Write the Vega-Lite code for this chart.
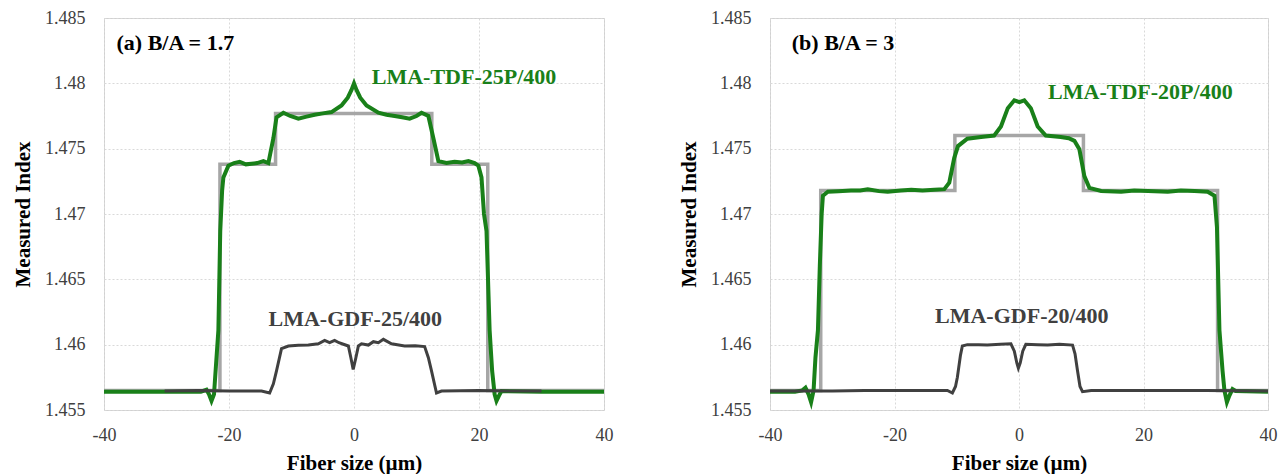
{
  "$schema": "https://vega.github.io/schema/vega-lite/v6.json",
  "padding": {"left": 12, "top": 8, "right": 0, "bottom": 0},
  "spacing": 64,
  "background": "white",
  "config": {
    "font": "Times New Roman, Liberation Serif, DejaVu Serif, serif",
    "view": {"stroke": "#d0d0d0", "strokeWidth": 1},
    "axis": {
      "domain": false, "ticks": false, "tickSize": 0,
      "grid": true, "gridColor": "#d9d9d9", "gridDash": [2, 2], "gridWidth": 1,
      "labelFont": "Times New Roman, Liberation Serif, DejaVu Serif, serif", "labelFontSize": 18, "labelColor": "#404040",
      "titleFont": "Times New Roman, Liberation Serif, DejaVu Serif, serif", "titleFontSize": 21, "titleFontWeight": "bold", "titleColor": "#000000"
    },
    "axisY": {"labelPadding": 19, "titlePadding": 11},
    "axisX": {"labelPadding": 16, "titlePadding": 8, "labelFlush": false}
  },
  "datasets": {
    "stepA": [
      {"x": -40, "y": 1.4565}, {"x": -21.45, "y": 1.4565}, {"x": -21.45, "y": 1.4738}, {"x": -12.55, "y": 1.4738},
      {"x": -12.55, "y": 1.4777}, {"x": 12.45, "y": 1.4777}, {"x": 12.45, "y": 1.4738}, {"x": 21.4, "y": 1.4738},
      {"x": 21.4, "y": 1.4565}, {"x": 40, "y": 1.4565}
    ],
    "tdfA": [
      {"x": -40, "y": 1.4564}, {"x": -30, "y": 1.4564}, {"x": -24.5, "y": 1.4564}, {"x": -23.6, "y": 1.45655},
      {"x": -23.2, "y": 1.4562}, {"x": -22.8, "y": 1.4557}, {"x": -22.4, "y": 1.4562}, {"x": -22.1, "y": 1.4583},
      {"x": -21.7, "y": 1.4611}, {"x": -21.4, "y": 1.4687}, {"x": -21.1, "y": 1.4718}, {"x": -20.9, "y": 1.4728},
      {"x": -20.1, "y": 1.4737}, {"x": -19.2, "y": 1.4739}, {"x": -18.3, "y": 1.474}, {"x": -17.3, "y": 1.4738},
      {"x": -16.4, "y": 1.47385}, {"x": -15.5, "y": 1.4739}, {"x": -14.5, "y": 1.47405}, {"x": -13.7, "y": 1.4739},
      {"x": -12.9, "y": 1.4758}, {"x": -12.4, "y": 1.4774}, {"x": -11.3, "y": 1.47775}, {"x": -10.2, "y": 1.4775},
      {"x": -8.9, "y": 1.4773}, {"x": -7.6, "y": 1.47745}, {"x": -6.3, "y": 1.4776}, {"x": -5.0, "y": 1.4777},
      {"x": -3.6, "y": 1.4778}, {"x": -2.0, "y": 1.4783}, {"x": -1.0, "y": 1.4789}, {"x": -0.4, "y": 1.4795},
      {"x": 0, "y": 1.48}, {"x": 0.4, "y": 1.4795}, {"x": 1.0, "y": 1.4789}, {"x": 2.0, "y": 1.4783},
      {"x": 3.9, "y": 1.47775}, {"x": 5.2, "y": 1.4776}, {"x": 6.5, "y": 1.4775}, {"x": 7.7, "y": 1.4774},
      {"x": 8.9, "y": 1.4773}, {"x": 10.0, "y": 1.4775}, {"x": 10.8, "y": 1.47775}, {"x": 11.9, "y": 1.4775},
      {"x": 12.7, "y": 1.4758}, {"x": 13.5, "y": 1.47405}, {"x": 14.8, "y": 1.4739}, {"x": 16.1, "y": 1.474},
      {"x": 17.3, "y": 1.47395}, {"x": 18.3, "y": 1.47405}, {"x": 19.3, "y": 1.4739}, {"x": 19.9, "y": 1.4737},
      {"x": 20.4, "y": 1.4728}, {"x": 20.8, "y": 1.47}, {"x": 21.2, "y": 1.4687}, {"x": 21.7, "y": 1.4611},
      {"x": 22.1, "y": 1.458}, {"x": 22.5, "y": 1.4562}, {"x": 22.8, "y": 1.4557}, {"x": 23.2, "y": 1.4561},
      {"x": 23.6, "y": 1.45645}, {"x": 30, "y": 1.4564}, {"x": 40, "y": 1.4564}
    ],
    "gdfA": [
      {"x": -30.3, "y": 1.45645}, {"x": -25, "y": 1.4565}, {"x": -20, "y": 1.45645}, {"x": -14.8, "y": 1.45645},
      {"x": -13.5, "y": 1.4563}, {"x": -12.9, "y": 1.457}, {"x": -12.4, "y": 1.458}, {"x": -11.6, "y": 1.4597},
      {"x": -10.5, "y": 1.4599}, {"x": -8.9, "y": 1.45995}, {"x": -7.3, "y": 1.45997}, {"x": -5.7, "y": 1.46007},
      {"x": -4.7, "y": 1.46033}, {"x": -3.9, "y": 1.46015}, {"x": -3.1, "y": 1.46033}, {"x": -2.4, "y": 1.46015},
      {"x": -1.7, "y": 1.46003}, {"x": -0.9, "y": 1.4599}, {"x": -0.5, "y": 1.459}, {"x": -0.13, "y": 1.4581},
      {"x": 0.3, "y": 1.459}, {"x": 0.7, "y": 1.4599}, {"x": 1.2, "y": 1.46007}, {"x": 2.3, "y": 1.45997},
      {"x": 3.1, "y": 1.46023}, {"x": 3.9, "y": 1.46015}, {"x": 4.7, "y": 1.46041}, {"x": 6.0, "y": 1.46007},
      {"x": 8.1, "y": 1.4599}, {"x": 9.8, "y": 1.45992}, {"x": 11.3, "y": 1.45985}, {"x": 11.9, "y": 1.459},
      {"x": 12.4, "y": 1.458}, {"x": 13.2, "y": 1.4563}, {"x": 14.0, "y": 1.45645}, {"x": 20, "y": 1.4565},
      {"x": 25, "y": 1.45645}, {"x": 30, "y": 1.45645}
    ],
    "panelLabelA": [{"x": -38, "y": 1.48309, "text": "(a) B/A = 1.7"}],
    "seriesLabelA": [
      {"x": 17.6, "y": 1.4805, "text": "LMA-TDF-25P/400", "series": "TDF"},
      {"x": 0.2, "y": 1.462, "text": "LMA-GDF-25/400", "series": "GDF"}
    ],
    "stepB": [
      {"x": -40, "y": 1.4565}, {"x": -31.85, "y": 1.4565}, {"x": -31.85, "y": 1.4718}, {"x": -10.3, "y": 1.4718},
      {"x": -10.3, "y": 1.476}, {"x": 10.35, "y": 1.476}, {"x": 10.35, "y": 1.4718}, {"x": 31.9, "y": 1.4718},
      {"x": 31.9, "y": 1.4565}, {"x": 40, "y": 1.4565}
    ],
    "tdfB": [
      {"x": -40, "y": 1.4564}, {"x": -36, "y": 1.4564}, {"x": -34.8, "y": 1.4565}, {"x": -34.3, "y": 1.4567},
      {"x": -33.8, "y": 1.4562}, {"x": -33.4, "y": 1.4556}, {"x": -33.0, "y": 1.4565}, {"x": -32.7, "y": 1.459},
      {"x": -32.3, "y": 1.4611}, {"x": -32.0, "y": 1.466}, {"x": -31.7, "y": 1.47}, {"x": -31.5, "y": 1.4714},
      {"x": -30.7, "y": 1.4717}, {"x": -29, "y": 1.47175}, {"x": -27.0, "y": 1.4718}, {"x": -25.5, "y": 1.4718},
      {"x": -24.3, "y": 1.4719}, {"x": -22.5, "y": 1.47175}, {"x": -21.1, "y": 1.4717}, {"x": -19, "y": 1.4718},
      {"x": -17.3, "y": 1.47185}, {"x": -15.5, "y": 1.4718}, {"x": -13.6, "y": 1.47185}, {"x": -12.0, "y": 1.4719},
      {"x": -11.2, "y": 1.4724}, {"x": -10.4, "y": 1.4743}, {"x": -9.8, "y": 1.4752}, {"x": -8.3, "y": 1.47576},
      {"x": -6.1, "y": 1.4759}, {"x": -4.0, "y": 1.476}, {"x": -2.9, "y": 1.4767}, {"x": -1.8, "y": 1.4781},
      {"x": -0.75, "y": 1.4787}, {"x": 0.05, "y": 1.47857}, {"x": 0.85, "y": 1.4787}, {"x": 1.9, "y": 1.4781},
      {"x": 3.0, "y": 1.4767}, {"x": 4.3, "y": 1.476}, {"x": 6.7, "y": 1.4759}, {"x": 8.0, "y": 1.4758},
      {"x": 8.9, "y": 1.4756}, {"x": 9.7, "y": 1.47495}, {"x": 10.5, "y": 1.4729}, {"x": 11.3, "y": 1.472},
      {"x": 13.2, "y": 1.47176}, {"x": 16.4, "y": 1.4717}, {"x": 18.5, "y": 1.4718}, {"x": 20.7, "y": 1.47176},
      {"x": 23.9, "y": 1.4717}, {"x": 26, "y": 1.4718}, {"x": 28.2, "y": 1.47176}, {"x": 30.3, "y": 1.4717},
      {"x": 31.4, "y": 1.4714}, {"x": 31.8, "y": 1.469}, {"x": 32.2, "y": 1.4611}, {"x": 32.7, "y": 1.458},
      {"x": 33.0, "y": 1.4565}, {"x": 33.4, "y": 1.4556}, {"x": 33.8, "y": 1.4561}, {"x": 34.3, "y": 1.4566},
      {"x": 34.8, "y": 1.45645}, {"x": 40, "y": 1.4564}
    ],
    "gdfB": [
      {"x": -40, "y": 1.45645}, {"x": -30, "y": 1.45645}, {"x": -24.8, "y": 1.4565}, {"x": -20, "y": 1.4565},
      {"x": -13.6, "y": 1.4565}, {"x": -11.5, "y": 1.4565}, {"x": -10.7, "y": 1.4563}, {"x": -10.2, "y": 1.4568},
      {"x": -9.9, "y": 1.4575}, {"x": -9.4, "y": 1.4592}, {"x": -9.1, "y": 1.4599}, {"x": -8.3, "y": 1.46},
      {"x": -6.5, "y": 1.46}, {"x": -5.1, "y": 1.45997}, {"x": -3, "y": 1.46003}, {"x": -1.3, "y": 1.46007},
      {"x": -0.75, "y": 1.4595}, {"x": -0.35, "y": 1.4586}, {"x": -0.1, "y": 1.4582}, {"x": 0.2, "y": 1.4586},
      {"x": 0.6, "y": 1.4595}, {"x": 1.1, "y": 1.46003}, {"x": 3, "y": 1.46}, {"x": 4.6, "y": 1.45997},
      {"x": 6.5, "y": 1.46003}, {"x": 8.6, "y": 1.45997}, {"x": 9.0, "y": 1.4593}, {"x": 9.4, "y": 1.458},
      {"x": 9.8, "y": 1.4568}, {"x": 10.2, "y": 1.4564}, {"x": 11.6, "y": 1.4565}, {"x": 20, "y": 1.4565},
      {"x": 30, "y": 1.4565}, {"x": 40, "y": 1.45645}
    ],
    "panelLabelB": [{"x": -36.5, "y": 1.48309, "text": "(b) B/A = 3"}],
    "seriesLabelB": [
      {"x": 19.5, "y": 1.47936, "text": "LMA-TDF-20P/400", "series": "TDF"},
      {"x": 0.45, "y": 1.46219, "text": "LMA-GDF-20/400", "series": "GDF"}
    ]
  },
  "hconcat": [
    {
      "width": 500, "height": 392,
      "encoding": {
        "x": {"field": "x", "type": "quantitative", "scale": {"domain": [-40, 40], "nice": false, "zero": false},
              "axis": {"values": [-40, -20, 0, 20, 40], "title": "Fiber size (µm)", "labelExpr": "'' + datum.value"}},
        "y": {"field": "y", "type": "quantitative", "scale": {"domain": [1.455, 1.485], "nice": false, "zero": false},
              "axis": {"values": [1.455, 1.46, 1.465, 1.47, 1.475, 1.48, 1.485], "title": "Measured Index", "labelExpr": "'' + datum.value"}}
      },
      "layer": [
        {"data": {"name": "stepA"}, "mark": {"type": "line", "color": "#a6a6a6", "strokeWidth": 3.5}, "encoding": {"order": {"value": null}}},
        {"data": {"name": "tdfA"}, "mark": {"type": "line", "color": "#198019", "strokeWidth": 4}, "encoding": {"order": {"value": null}}},
        {"data": {"name": "gdfA"}, "mark": {"type": "line", "color": "#404040", "strokeWidth": 3}, "encoding": {"order": {"value": null}}},
        {"data": {"name": "panelLabelA"}, "mark": {"type": "text", "align": "left", "baseline": "middle", "fontSize": 22, "fontWeight": "bold", "font": "Times New Roman, Liberation Serif, DejaVu Serif, serif", "color": "#000000"},
         "encoding": {"text": {"field": "text"}}},
        {"data": {"name": "seriesLabelA"}, "mark": {"type": "text", "align": "center", "baseline": "middle", "fontSize": 22, "fontWeight": "bold", "font": "Times New Roman, Liberation Serif, DejaVu Serif, serif"},
         "encoding": {"text": {"field": "text"}, "color": {"field": "series", "type": "nominal", "scale": {"domain": ["TDF", "GDF"], "range": ["#198019", "#404040"]}, "legend": null}}}
      ]
    },
    {
      "width": 498, "height": 392,
      "encoding": {
        "x": {"field": "x", "type": "quantitative", "scale": {"domain": [-40, 40], "nice": false, "zero": false},
              "axis": {"values": [-40, -20, 0, 20, 40], "title": "Fiber size (µm)", "labelExpr": "'' + datum.value"}},
        "y": {"field": "y", "type": "quantitative", "scale": {"domain": [1.455, 1.485], "nice": false, "zero": false},
              "axis": {"values": [1.455, 1.46, 1.465, 1.47, 1.475, 1.48, 1.485], "title": "Measured Index", "labelExpr": "'' + datum.value"}}
      },
      "layer": [
        {"data": {"name": "stepB"}, "mark": {"type": "line", "color": "#a6a6a6", "strokeWidth": 3.5}, "encoding": {"order": {"value": null}}},
        {"data": {"name": "tdfB"}, "mark": {"type": "line", "color": "#198019", "strokeWidth": 4}, "encoding": {"order": {"value": null}}},
        {"data": {"name": "gdfB"}, "mark": {"type": "line", "color": "#404040", "strokeWidth": 3}, "encoding": {"order": {"value": null}}},
        {"data": {"name": "panelLabelB"}, "mark": {"type": "text", "align": "left", "baseline": "middle", "fontSize": 22, "fontWeight": "bold", "font": "Times New Roman, Liberation Serif, DejaVu Serif, serif", "color": "#000000"},
         "encoding": {"text": {"field": "text"}}},
        {"data": {"name": "seriesLabelB"}, "mark": {"type": "text", "align": "center", "baseline": "middle", "fontSize": 22, "fontWeight": "bold", "font": "Times New Roman, Liberation Serif, DejaVu Serif, serif"},
         "encoding": {"text": {"field": "text"}, "color": {"field": "series", "type": "nominal", "scale": {"domain": ["TDF", "GDF"], "range": ["#198019", "#404040"]}, "legend": null}}}
      ]
    }
  ]
}
